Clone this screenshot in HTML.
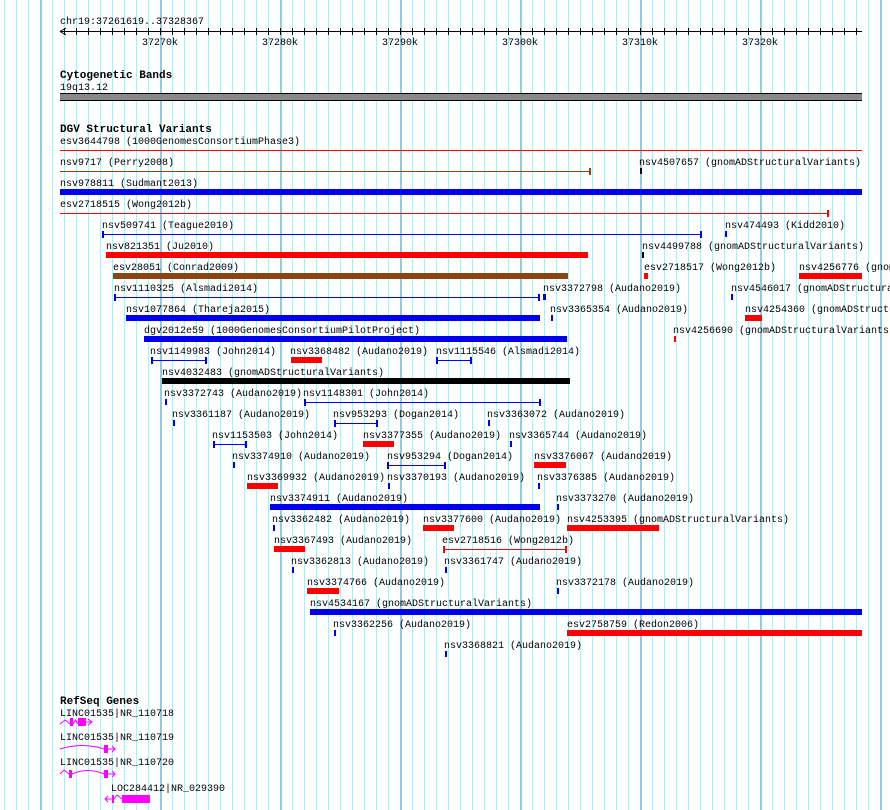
<!DOCTYPE html>
<html><head><meta charset="utf-8"><style>
html,body{margin:0;padding:0;background:#fff;width:890px;height:810px;overflow:hidden}
svg{display:block}
text{font-family:"Liberation Mono","DejaVu Sans Mono",monospace;font-size:10px;fill:#000}
.b{font-weight:bold;font-size:11px}
</style></head><body>
<svg width="890" height="810" xmlns="http://www.w3.org/2000/svg" shape-rendering="crispEdges">
<g id="grid"></g>
<g id="main"></g>
</svg>
<script>
const NS="http://www.w3.org/2000/svg";
const grid=document.getElementById('grid'),main=document.getElementById('main');
function el(p,tag,a,t){const e=document.createElementNS(NS,tag);for(const k in a)e.setAttribute(k,a[k]);if(t!==undefined)e.textContent=t;p.appendChild(e);return e;}
for(let x=4;x<890;x+=12){const major=((x-160)%120===0);el(grid,'rect',{x:x,y:0,width:major?2:1,height:810,fill:major?'#8fcbe6':'#b4eaf0'});}
// ruler
el(main,'text',{x:60,y:24},'chr19:37261619..37328367');
el(main,'rect',{x:60,y:31,width:802,height:1,fill:'#000'});
el(main,'path',{d:'M60 31.5 L66 28 M60 31.5 L66 35',stroke:'#000',fill:'none','shape-rendering':'auto'});
for(let x=64;x<862;x+=12)el(main,'rect',{x:x,y:28,width:1,height:7,fill:'#000'});
[[160,'37270k'],[280,'37280k'],[400,'37290k'],[520,'37300k'],[640,'37310k'],[760,'37320k']].forEach(([x,t])=>el(main,'text',{x:x-18,y:45},t));
// cyto
el(main,'text',{x:60,y:78,class:'b'},'Cytogenetic Bands');
el(main,'text',{x:60,y:90},'19q13.12');
el(main,'rect',{x:60,y:93,width:802,height:8,fill:'#000'});
el(main,'rect',{x:60,y:94,width:802,height:6,fill:'#888'});
el(main,'text',{x:60,y:132,class:'b'},'DGV Structural Variants');
const R='#ff0000',B='#0000ee',N='#8b4513',K='#000';
const F=[
[0,'esv3644798 (1000GenomesConsortiumPhase3)',60,60,862,'L0',R],
[1,'nsv9717 (Perry2008)',60,60,590,'Le',N],
[1,'nsv4507657 (gnomADStructuralVariants)',639,640,642,'T',K],
[2,'nsv978811 (Sudmant2013)',60,60,862,'B',B],
[3,'esv2718515 (Wong2012b)',60,60,828,'Le',R],
[4,'nsv509741 (Teague2010)',102,102,702,'Lb',B],
[4,'nsv474493 (Kidd2010)',725,725,727,'T',B],
[5,'nsv821351 (Ju2010)',106,106,588,'B',R],
[5,'nsv4499788 (gnomADStructuralVariants)',642,642,644,'T',K],
[6,'esv28051 (Conrad2009)',113,113,568,'B',N],
[6,'esv2718517 (Wong2012b)',644,644,648,'B',R],
[6,'nsv4256776 (gnomADStructuralVariants)',799,799,862,'B',R],
[7,'nsv1110325 (Alsmadi2014)',114,114,540,'Lb',B],
[7,'nsv3372798 (Audano2019)',543,543,546,'T',B],
[7,'nsv4546017 (gnomADStructuralVariants)',731,731,733,'T',B],
[8,'nsv1077864 (Thareja2015)',126,126,540,'B',B],
[8,'nsv3365354 (Audano2019)',550,551,553,'T',B],
[8,'nsv4254360 (gnomADStructuralVariants)',745,745,762,'B',R],
[9,'dgv2012e59 (1000GenomesConsortiumPilotProject)',144,144,567,'B',B],
[9,'nsv4256690 (gnomADStructuralVariants)',673,674,676,'T',R],
[10,'nsv1149983 (John2014)',150,151,207,'Lb',B],
[10,'nsv3368482 (Audano2019)',290,291,322,'B',R],
[10,'nsv1115546 (Alsmadi2014)',436,436,472,'Lb',B],
[11,'nsv4032483 (gnomADStructuralVariants)',162,162,570,'B',K],
[12,'nsv3372743 (Audano2019)',164,165,167,'T',B],
[12,'nsv1148301 (John2014)',303,304,541,'Lb',B],
[13,'nsv3361187 (Audano2019)',172,173,175,'T',B],
[13,'nsv953293 (Dogan2014)',333,334,378,'Lb',B],
[13,'nsv3363072 (Audano2019)',487,488,490,'T',B],
[14,'nsv1153503 (John2014)',212,213,247,'Lb',B],
[14,'nsv3377355 (Audano2019)',363,363,394,'B',R],
[14,'nsv3365744 (Audano2019)',509,510,512,'T',B],
[15,'nsv3374910 (Audano2019)',232,233,235,'T',B],
[15,'nsv953294 (Dogan2014)',387,387,446,'Lb',B],
[15,'nsv3376067 (Audano2019)',534,534,566,'B',R],
[16,'nsv3369932 (Audano2019)',247,247,278,'B',R],
[16,'nsv3370193 (Audano2019)',387,388,390,'T',B],
[16,'nsv3376385 (Audano2019)',537,538,540,'T',B],
[17,'nsv3374911 (Audano2019)',270,270,540,'B',B],
[17,'nsv3373270 (Audano2019)',556,557,559,'T',B],
[18,'nsv3362482 (Audano2019)',272,273,275,'T',B],
[18,'nsv3377600 (Audano2019)',423,423,454,'B',R],
[18,'nsv4253395 (gnomADStructuralVariants)',567,567,659,'B',R],
[19,'nsv3367493 (Audano2019)',274,274,305,'B',R],
[19,'esv2718516 (Wong2012b)',442,443,567,'Lb',R],
[20,'nsv3362813 (Audano2019)',291,292,294,'T',B],
[20,'nsv3361747 (Audano2019)',444,445,447,'T',B],
[21,'nsv3374766 (Audano2019)',307,307,339,'B',R],
[21,'nsv3372178 (Audano2019)',556,557,559,'T',B],
[22,'nsv4534167 (gnomADStructuralVariants)',310,310,862,'B',B],
[23,'nsv3362256 (Audano2019)',333,334,336,'T',B],
[23,'esv2758759 (Redon2006)',567,567,862,'B',R],
[24,'nsv3368821 (Audano2019)',444,445,447,'T',B]];
F.forEach(([r,l,lx,x1,x2,t,c])=>{
 const cy=140+21*r;
 el(main,'text',{x:lx,y:cy+4},l);
 const by=cy+10;
 if(t==='B'||t==='T')el(main,'rect',{x:x1,y:by-3,width:x2-x1,height:6,fill:c});
 else{el(main,'rect',{x:x1,y:by,width:x2-x1,height:1,fill:c});
  if(t==='Lb'){el(main,'rect',{x:x1,y:by-3,width:2,height:7,fill:c});el(main,'rect',{x:x2-2,y:by-3,width:2,height:7,fill:c});}
  if(t==='Le')el(main,'rect',{x:x2-1,y:by-3,width:2,height:7,fill:c});}
});
// RefSeq
const M='#ff00ff';
el(main,'text',{x:60,y:704,class:'b'},'RefSeq Genes');
const g=el(main,'g',{'shape-rendering':'auto'});
el(main,'text',{x:60,y:716},'LINC01535|NR_110718');
el(g,'path',{d:'M60 724 L65 720 L70 724 M73 724 L75.5 720 L78 724 M86 722 L92 722 M88 719 L92 722 L88 725',stroke:M,fill:'none'});
el(g,'rect',{x:70,y:718,width:3,height:8,fill:M});el(g,'rect',{x:78,y:718,width:8,height:8,fill:M});
el(main,'text',{x:60,y:740},'LINC01535|NR_110719');
el(g,'path',{d:'M60 749 Q82 742 104 749 M108 749 L115 749 M112 746 L115 749 L112 752',stroke:M,fill:'none'});
el(g,'rect',{x:104,y:745,width:4,height:8,fill:M});
el(main,'text',{x:60,y:765},'LINC01535|NR_110720');
el(g,'path',{d:'M60 774 L64 770 L69 774 M72 774 Q88 767 104 774 M108 774 L115 774 M112 771 L115 774 L112 777',stroke:M,fill:'none'});
el(g,'rect',{x:69,y:770,width:3,height:8,fill:M});el(g,'rect',{x:104,y:770,width:4,height:8,fill:M});
el(main,'text',{x:111,y:791},'LOC284412|NR_029390');
el(g,'path',{d:'M105 799 L112 799 M108 796 L105 799 L108 802 M114 799 L117 795 L122 799',stroke:M,fill:'none'});
el(g,'rect',{x:112,y:795,width:2,height:8,fill:M});el(g,'rect',{x:122,y:795,width:28,height:8,fill:M});
</script>
</body></html>
